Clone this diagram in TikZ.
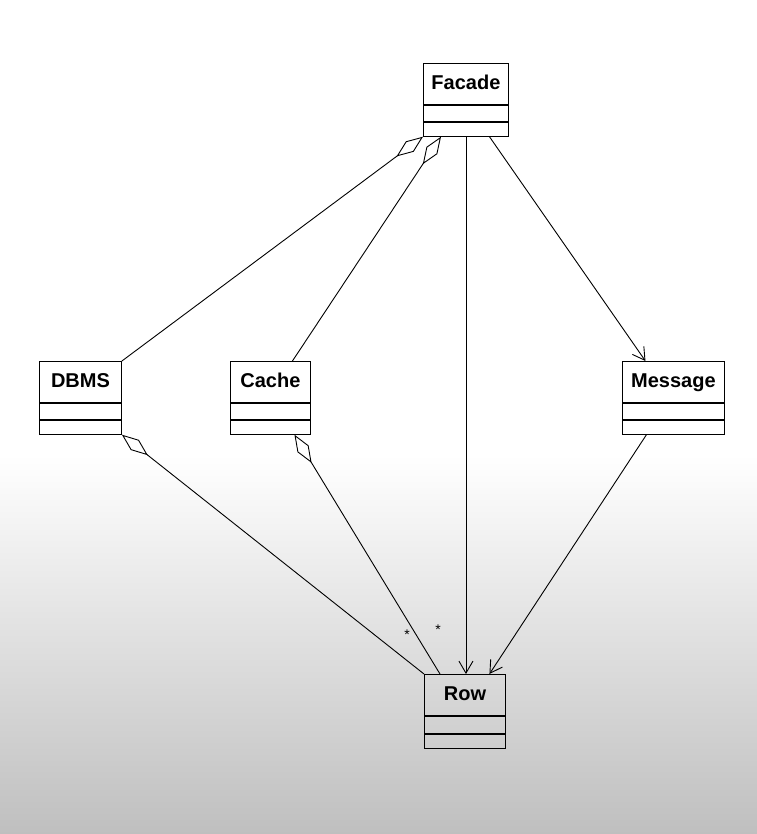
\documentclass[tikz,border=0pt]{standalone}
\usepackage{fontspec}
\setmainfont{Liberation Sans}
\usepackage{tikz}
\usetikzlibrary{positioning, arrows.meta}
\definecolor{bggray}{RGB}{190,190,190}

\begin{document}
\begin{tikzpicture}[x = 1pt, y = -1pt, line width = 0.9pt,
  classname/.style = {draw, inner sep = 0pt, anchor = north west, minimum height = 41pt, text height = 15pt, text depth = 4pt, font = \bfseries\fontsize{20}{24}\selectfont},
  compart/.style = {draw, inner sep = 0pt, minimum height = #1},
  mult/.style = {inner sep = 0pt, font = \fontsize{14}{14}\selectfont},
  aggr/.style = {{Diamond[open, length = 33pt, width = 13pt]}-},
  assoc/.style = {-{Straight Barb[length = 12pt, width = 14pt]}}]
  % background
  \useasboundingbox (0,0) rectangle (756,834);
  \fill [white] (-5,-5) rectangle (761,840);
  \shade [top color = white, bottom color = bggray] (-5,455) rectangle (761,840);

  % classes
  \node [classname, minimum width = 85pt] (facade) at (423,63) {Facade};
  \node [compart = 16pt, minimum width = 85pt][below = 0pt of facade] (facadeattr) {};
  \node [compart = 14pt, minimum width = 85pt][below = 0pt of facadeattr] (facadeops) {};

  \node [classname, minimum width = 82pt] (dbms) at (39,361) {DBMS};
  \node [compart = 16pt, minimum width = 82pt][below = 0pt of dbms] (dbmsattr) {};
  \node [compart = 14pt, minimum width = 82pt][below = 0pt of dbmsattr] (dbmsops) {};

  \node [classname, minimum width = 80pt] (cache) at (230,361) {Cache};
  \node [compart = 16pt, minimum width = 80pt][below = 0pt of cache] (cacheattr) {};
  \node [compart = 14pt, minimum width = 80pt][below = 0pt of cacheattr] (cacheops) {};

  \node [classname, minimum width = 102pt] (message) at (622,361) {Message};
  \node [compart = 16pt, minimum width = 102pt][below = 0pt of message] (messageattr) {};
  \node [compart = 14pt, minimum width = 102pt][below = 0pt of messageattr] (messageops) {};

  \node [classname, minimum width = 81pt] (row) at (424,674) {Row};
  \node [compart = 17pt, minimum width = 81pt][below = 0pt of row] (rowattr) {};
  \node [compart = 14pt, minimum width = 81pt][below = 0pt of rowattr] (rowops) {};

  % multiplicities
  \node [mult] (dbmsmult) at (407,635) {*};
  \node [mult] (cachemult) at (438,630) {*};

  % edges
  \draw [aggr] (facadeops.south west) -- (dbms.north east);
  \draw [aggr] ([xshift = 18pt]facadeops.south west) -- ([xshift = 22pt]cache.north);
  \draw [assoc] (facadeops.south) -- (facadeops.south |- row.north);
  \draw [assoc] ([xshift = 23.5pt]facadeops.south) -- ([xshift = -28pt]message.north);

  \draw [aggr] (dbmsops.south east) -- (row.north west);
  \draw [aggr] ([xshift = 24pt]cacheops.south) -- ([xshift = 16pt]row.north west);
  \draw [assoc] ([xshift = -27pt]messageops.south) -- ([xshift = 24.5pt]row.north);
\end{tikzpicture}
\end{document}
